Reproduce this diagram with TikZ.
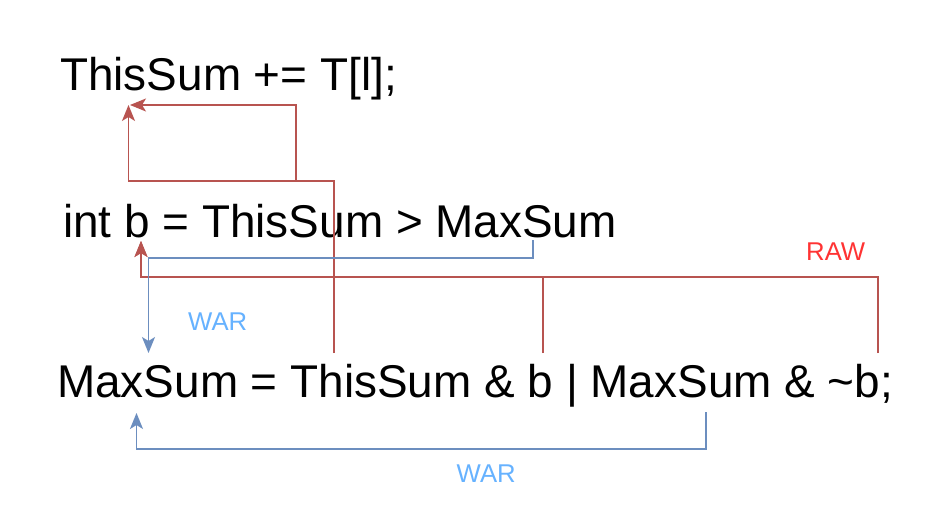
\documentclass[tikz,border=0pt]{standalone}
\usepackage{fontspec}
\setmainfont{Liberation Sans}
\usetikzlibrary{arrows.meta}
\definecolor{redline}{HTML}{B85450}
\definecolor{blueline}{HTML}{6C8EBF}
\definecolor{warlabel}{HTML}{66B2FF}
\definecolor{rawlabel}{HTML}{FF3333}
\begin{document}
\begin{tikzpicture}[x=1pt,y=-1pt,
  code/.style={inner sep=0pt,anchor=base west,font=\fontsize{45.9}{50}\selectfont},
  lbl/.style={inner sep=0pt,anchor=base west,font=\fontsize{25.7}{30}\selectfont},
  dep/.style={line width=1.5pt,-{Stealth[length=16pt,width=13pt,inset=4pt]}},
  raw/.style={dep,draw=redline,redline},
  war/.style={dep,draw=blueline,blueline}]
\useasboundingbox (0,0) rectangle (935,516);
\fill[white] (0,0) rectangle (935,516);
% code lines
\node[code] (l1) at (60,91) {ThisSum += T[l];};
\node[code] (l2) at (63,237) {int b = ThisSum > MaxSum};
\node[code] (l3) at (57,397) {MaxSum = ThisSum \& b | MaxSum \& \textasciitilde b;};
% labels
\node[lbl,text=warlabel] (w1) at (188,330) {WAR};
\node[lbl,text=rawlabel] (r1) at (806,260.7) {RAW};
\node[lbl,text=warlabel] (w2) at (456.5,482.7) {WAR};
% endpoints
\coordinate (a1) at (334,353);
\coordinate (a2) at (128.5,105);
\coordinate (b1) at (296,181);
\coordinate (b2) at (130,105);
\coordinate (c1) at (543,353);
\coordinate (d1) at (878,353);
\coordinate (c2) at (141,241);
\coordinate (e1) at (533,240);
\coordinate (e2) at (148.5,353);
\coordinate (f1) at (706,412);
\coordinate (f2) at (136.5,413);
% red dependencies to line 1
\draw[raw] (a1) -- (a1 |- b1) -- (b1 -| a2) -- (a2);
\draw[raw] (b1) -- (b1 |- b2) -- (b2);
% RAW dependencies to line 2
\draw[raw] (d1) -- (878,277) -- (141,277) -- (c2);
\draw[raw] (c1) -- (543,277) -- (141,277) -- (c2);
% WAR dependencies
\draw[war] (e1) -- (533,258) -- (148.5,258) -- (e2);
\draw[war] (f1) -- (706,449) -- (136.5,449) -- (f2);
\end{tikzpicture}
\end{document}
